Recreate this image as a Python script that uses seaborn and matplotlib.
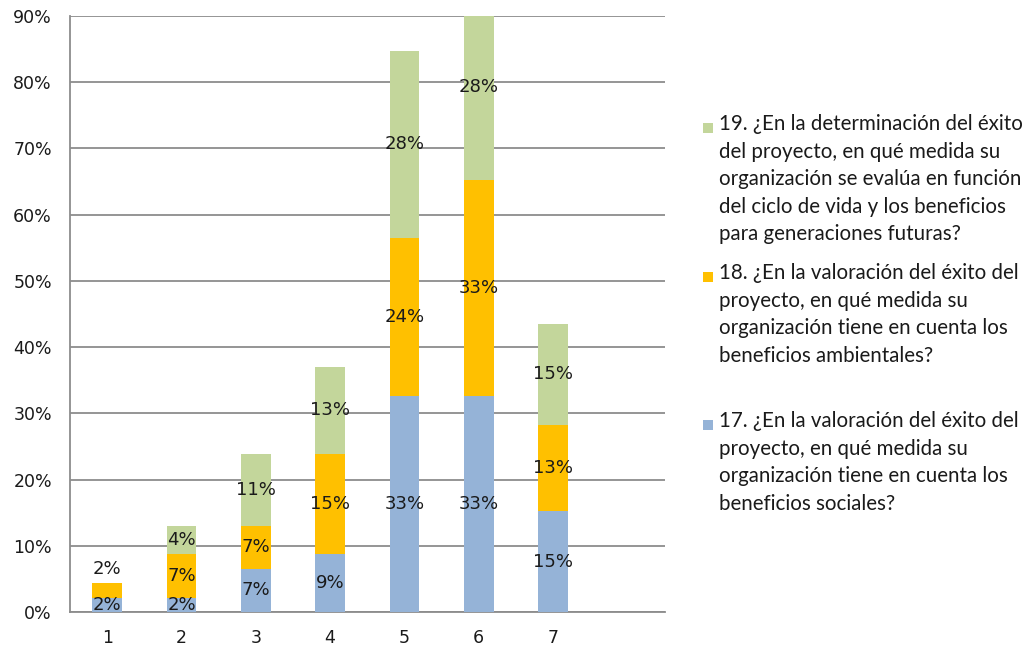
import matplotlib
matplotlib.use("Agg")
import matplotlib.pyplot as plt
import seaborn as sns
import pandas as pd
from matplotlib.ticker import PercentFormatter, FixedLocator
from matplotlib.patches import Rectangle

# Response scale (1..7) plus one trailing empty slot on the axis
categories = ["1", "2", "3", "4", "5", "6", "7"]
slots = categories + ["8"]
slot_labels = categories + [""]

# Share of respondents per scale value (%)
q17 = [2.17, 2.17, 6.52, 8.70, 32.61, 32.61, 15.22]
q18 = [2.17, 6.52, 6.52, 15.22, 23.91, 32.61, 13.04]
q19 = [0.00, 4.35, 10.87, 13.04, 28.26, 28.26, 15.22]

legend_texts = [
    "19. ¿En la determinación del éxito\ndel proyecto, en qué medida su\norganización se evalúa en función\ndel ciclo de vida y los beneficios\npara generaciones futuras?",
    "18. ¿En la valoración del éxito del\nproyecto, en qué medida su\norganización tiene en cuenta los\nbeneficios ambientales?",
    "17. ¿En la valoración del éxito del\nproyecto, en qué medida su\norganización tiene en cuenta los\nbeneficios sociales?",
]

BLUE = "#95B3D7"
ORANGE = "#FFC000"
GREEN = "#C3D69B"
GRID = "#8C8C8C"
TEXT = "#1A1A1A"

sns.set_style("white")
plt.rcParams["font.family"] = ["DejaVu Sans"]

df = pd.DataFrame({"cat": categories, "q17": q17, "q18": q18, "q19": q19})
df["s2"] = df["q17"] + df["q18"]
df["s3"] = df["s2"] + df["q19"]

fig, ax = plt.subplots(figsize=(10.32, 6.53), dpi=100)
fig.subplots_adjust(left=0.0678, right=0.644, top=0.9755, bottom=0.0628)

# Stacked bars: draw cumulative totals from the top series down
for col, color in [("s3", GREEN), ("s2", ORANGE), ("q17", BLUE)]:
    sns.barplot(data=df, x="cat", y=col, order=slots, color=color,
                width=0.4, saturation=1, errorbar=None, ax=ax, zorder=3,
                linewidth=0, edgecolor="none")

ax.set_axisbelow(True)
ax.set_ylim(0, 90)
ax.set_xlim(-0.5, len(slots) - 0.5)
ax.set_xlabel("")
ax.set_ylabel("")

ax.yaxis.set_major_locator(FixedLocator(range(0, 91, 10)))
ax.yaxis.set_major_formatter(PercentFormatter(100, decimals=0))
ax.grid(axis="y", color=GRID, linewidth=1.3)
ax.grid(axis="x", visible=False)

ax.set_xticks(range(len(slots)))
ax.set_xticklabels(slot_labels)
ax.xaxis.set_minor_locator(FixedLocator([i - 0.5 for i in range(len(slots) + 1)]))
ax.tick_params(axis="x", which="major", length=0, pad=12, labelsize=12.5, labelcolor=TEXT)
ax.tick_params(axis="x", which="minor", length=6, width=1.3, color=GRID, direction="out")
ax.tick_params(axis="y", which="major", length=6, width=1.3, color=GRID, direction="out",
               pad=7, labelsize=12.5, labelcolor=TEXT)

for side in ["top", "right"]:
    ax.spines[side].set_visible(False)
for side in ["left", "bottom"]:
    ax.spines[side].set_color(GRID)
    ax.spines[side].set_linewidth(1.3)

# Segment value labels
for i in range(len(categories)):
    segs = [(0, q17[i]), (q17[i], q18[i]), (q17[i] + q18[i], q19[i])]
    nonzero = [k for k, (_, h) in enumerate(segs) if h > 0]
    top_k = nonzero[-1]
    for k, (base, h) in enumerate(segs):
        if h <= 0:
            continue
        if k == top_k and h < 3:
            y = base + h + 2.2
        else:
            y = base + h / 2
        ax.text(i, y, f"{h:.0f}%", ha="center", va="center",
                fontsize=13, color=TEXT, zorder=4)

# Legend drawn beside the plot area
legend_font = ["Lato", "DejaVu Sans"]
entries = [(GREEN, 128), (ORANGE, 277), (BLUE, 425)]
W, H = 1032, 653
for (color, ypx), label in zip(entries, legend_texts):
    fig.patches.append(Rectangle((703 / W, 1 - (ypx + 5) / H), 10 / W, 10 / H,
                                 transform=fig.transFigure, facecolor=color,
                                 edgecolor="none"))
    fig.text(719 / W, 1 - (ypx - 14) / H, label, ha="left", va="top",
             fontsize=14.8, color=TEXT, family=legend_font, linespacing=1.47)

fig.savefig("out.png", dpi=100)
